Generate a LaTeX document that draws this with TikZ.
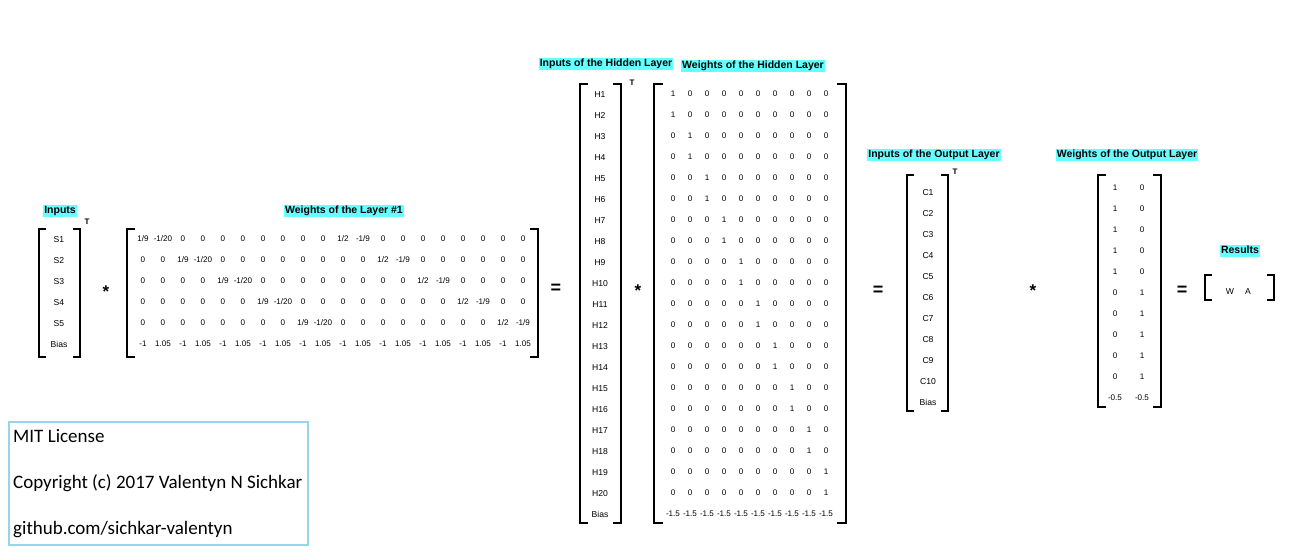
\documentclass[tikz,border=0pt]{standalone}
\usepackage{fontspec}
\setmainfont{Liberation Sans}
\newfontfamily\licfont{Carlito}
\definecolor{hl}{RGB}{102,255,255}
\definecolor{licc}{RGB}{150,212,232}
\newcommand\mybrk[5]{%
  \draw[brk] ({#1+#5},#2) -- (#1,#2) -- (#1,#4) -- ({#1+#5},#4);
  \draw[brk] ({#3-#5},#2) -- (#3,#2) -- (#3,#4) -- ({#3-#5},#4);}
\begin{document}
\begin{tikzpicture}[x=1pt,y=-1pt,
  cell/.style={font=\fontsize{8.1}{9}\selectfont, inner sep=0pt, text height=5.8pt, text depth=0pt},
  lab/.style={font=\fontsize{8.6}{9}\selectfont, inner sep=0pt, text height=6.1pt, text depth=0pt},
  hdr/.style={fill=hl, font=\fontsize{10.5}{12}\selectfont\bfseries, inner xsep=1pt, inner ysep=0.8pt, text height=8pt, text depth=2.6pt},
  brk/.style={line width=1.8pt},
  opstar/.style={font=\fontsize{17}{20}\selectfont\bfseries, inner sep=0pt, anchor=base},
  opeq/.style={font=\fontsize{18}{20}\selectfont\bfseries, inner sep=0pt, anchor=base},
  trp/.style={font=\fontsize{8}{8}\selectfont\bfseries, inner sep=0pt},
  lictext/.style={font=\licfont\fontsize{19}{22}\selectfont, anchor=base west, inner sep=0pt}
]
\fill[white] (0,0) rectangle (1294,556);
\useasboundingbox (0,0) rectangle (1294,556);

% ---------- Inputs ----------
\node[hdr] (hin) at (60,211) {Inputs};
\mybrk{39}{229}{80}{357}{7}
\foreach \t [count=\r] in {S1,S2,S3,S4,S5,Bias}
  \node[lab] (s-\r) at (59,{239+21*(\r-1)}) {\t};
\node[trp] (t1) at (87,222) {T};
\node[opstar] (op1) at (106,298) {*};

% ---------- Weights of the Layer #1 ----------
\node[hdr] (hw1) at (344,211) {Weights of the Layer \#1};
\mybrk{127}{229}{538}{357}{8}
\foreach \row [count=\r] in {%
  {1/9,-1/20,0,0,0,0,0,0,0,0,1/2,-1/9,0,0,0,0,0,0,0,0},
  {0,0,1/9,-1/20,0,0,0,0,0,0,0,0,1/2,-1/9,0,0,0,0,0,0},
  {0,0,0,0,1/9,-1/20,0,0,0,0,0,0,0,0,1/2,-1/9,0,0,0,0},
  {0,0,0,0,0,0,1/9,-1/20,0,0,0,0,0,0,0,0,1/2,-1/9,0,0},
  {0,0,0,0,0,0,0,0,1/9,-1/20,0,0,0,0,0,0,0,0,1/2,-1/9},
  {-1,1.05,-1,1.05,-1,1.05,-1,1.05,-1,1.05,-1,1.05,-1,1.05,-1,1.05,-1,1.05,-1,1.05}}
  \foreach \v [count=\c from 0] in \row
    \node[cell] (w1-\r-\c) at ({143+20*\c},{239+21*(\r-1)}) {\v};
\node[opeq] (op2) at (556,293.5) {=};

% ---------- Hidden layer inputs ----------
\node[hdr] (hhi) at (606,64) {Inputs of the Hidden Layer};
\mybrk{580}{84}{621}{523}{8}
\foreach \r in {1,...,20}
  \node[lab] (h-\r) at (600,{94+21*(\r-1)}) {H\r};
\node[lab] (h-21) at (600,514) {Bias};
\node[trp] (t2) at (632,83) {T};
\node[opstar] (op3) at (638,297) {*};

% ---------- Hidden layer weights ----------
\node[hdr] (hhw) at (753,66) {Weights of the Hidden Layer};
\mybrk{654}{84}{846}{523}{9}
\foreach \r in {1,...,20}
  \foreach \c in {1,...,10}{
    \pgfmathtruncatemacro\one{(\c==int((\r+1)/2))}
    \node[cell] (hw-\r-\c) at ({673+17*(\c-1)},{94+21*(\r-1)}) {\ifnum\one=1 1\else 0\fi};
  }
\foreach \c in {1,...,10}
  \node[cell] (hw-21-\c) at ({673+17*(\c-1)},514) {-1.5};
\node[opeq] (op4) at (878,295.5) {=};

% ---------- Output layer inputs ----------
\node[hdr] (hoi) at (934,155) {Inputs of the Output Layer};
\mybrk{907}{175}{948}{411}{7}
\foreach \r in {1,...,10}
  \node[lab] (c-\r) at (928,{192+21*(\r-1)}) {C\r};
\node[lab] (c-11) at (928,402) {Bias};
\node[trp] (t3) at (955,172) {T};
\node[opstar] (op5) at (1033,297) {*};

% ---------- Output layer weights ----------
\node[hdr] (how) at (1127,155) {Weights of the Output Layer};
\mybrk{1098}{175}{1161}{407}{8}
\foreach \r in {1,...,5}{
  \node[cell] (ow-\r-1) at (1115,{188+21*(\r-1)}) {1};
  \node[cell] (ow-\r-2) at (1142,{188+21*(\r-1)}) {0};
}
\foreach \r in {6,...,10}{
  \node[cell] (ow-\r-1) at (1115,{188+21*(\r-1)}) {0};
  \node[cell] (ow-\r-2) at (1142,{188+21*(\r-1)}) {1};
}
\node[cell] (ow-11-1) at (1115,398) {-0.5};
\node[cell] (ow-11-2) at (1142,398) {-0.5};
\node[opeq] (op6) at (1182,295.5) {=};

% ---------- Results ----------
\node[hdr] (hres) at (1240,251) {Results};
\mybrk{1205}{275}{1274}{300}{7}
\node[lab] (rw) at (1230,291) {W};
\node[lab] (ra) at (1248,291) {A};

% ---------- License ----------
\node[draw=licc, line width=2.5pt, minimum width=299pt, minimum height=123pt, inner sep=0pt] (lic) at (158.5,483.5) {};
\node[lictext] (l1) at (13,442) {MIT License};
\node[lictext] (l2) at (13,488) {Copyright (c) 2017 Valentyn N Sichkar};
\node[lictext] (l3) at (13,534) {github.com/sichkar-valentyn};
\end{tikzpicture}
\end{document}
